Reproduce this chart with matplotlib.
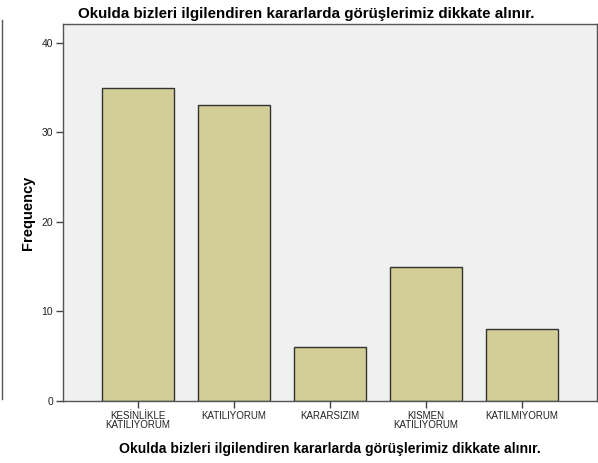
import matplotlib.pyplot as plt
from matplotlib.lines import Line2D

plt.rcParams['font.family'] = ['Liberation Sans', 'DejaVu Sans']

title = 'Okulda bizleri ilgilendiren kararlarda görüşlerimiz dikkate alınır.'
categories = ['KESİNLİKLE\nKATILIYORUM', 'KATILIYORUM', 'KARARSIZIM',
              'KISMEN\nKATILIYORUM', 'KATILMIYORUM']
frequency = [35, 33, 6, 15, 8]
y_ticks = [0, 10, 20, 30, 40]

W, H = 598, 463
fig = plt.figure(figsize=(W / 100, H / 100), dpi=100)
fig.patch.set_facecolor('white')

# axes box in pixels: left 63, right 597, top 24, bottom 401
ax = fig.add_axes([63 / W, 1 - 401 / H, (597 - 63) / W, (401 - 24) / H])
ax.set_facecolor('#f0f0f0')

x = range(len(categories))
ax.bar(x, frequency, width=0.754, color='#d3ce97', edgecolor='#333333',
       linewidth=1.0, zorder=2)

ax.set_xlim(-0.78, len(categories) - 1 + 0.78)
ax.set_ylim(0, 42.1)
ax.set_xticks(list(x))
ax.set_xticklabels(categories, fontsize=7, color='#222222', linespacing=0.85)
ax.set_yticks(y_ticks)
ax.set_yticklabels([str(v) for v in y_ticks], fontsize=7.5, color='#222222')
ax.tick_params(axis='both', direction='out', length=5, width=1,
               color='#444444', pad=2)

for side in ['left', 'bottom', 'top', 'right']:
    ax.spines[side].set_color('#555555')
    ax.spines[side].set_linewidth(1)

ax.set_ylabel('Frequency', fontsize=10.5, fontweight='bold', labelpad=5)
ax.set_xlabel(title, fontsize=10.1, fontweight='bold', labelpad=9)
fig.text(306 / W, 1 - 14 / H, title, fontsize=10.9, fontweight='bold',
         ha='center', va='center')

# edge of the neighbouring panel on the left
fig.add_artist(Line2D([2 / W, 2 / W], [1 - 20 / H, 1 - 399 / H],
                      color='#555555', linewidth=1))

fig.savefig('out.png', dpi=100)
